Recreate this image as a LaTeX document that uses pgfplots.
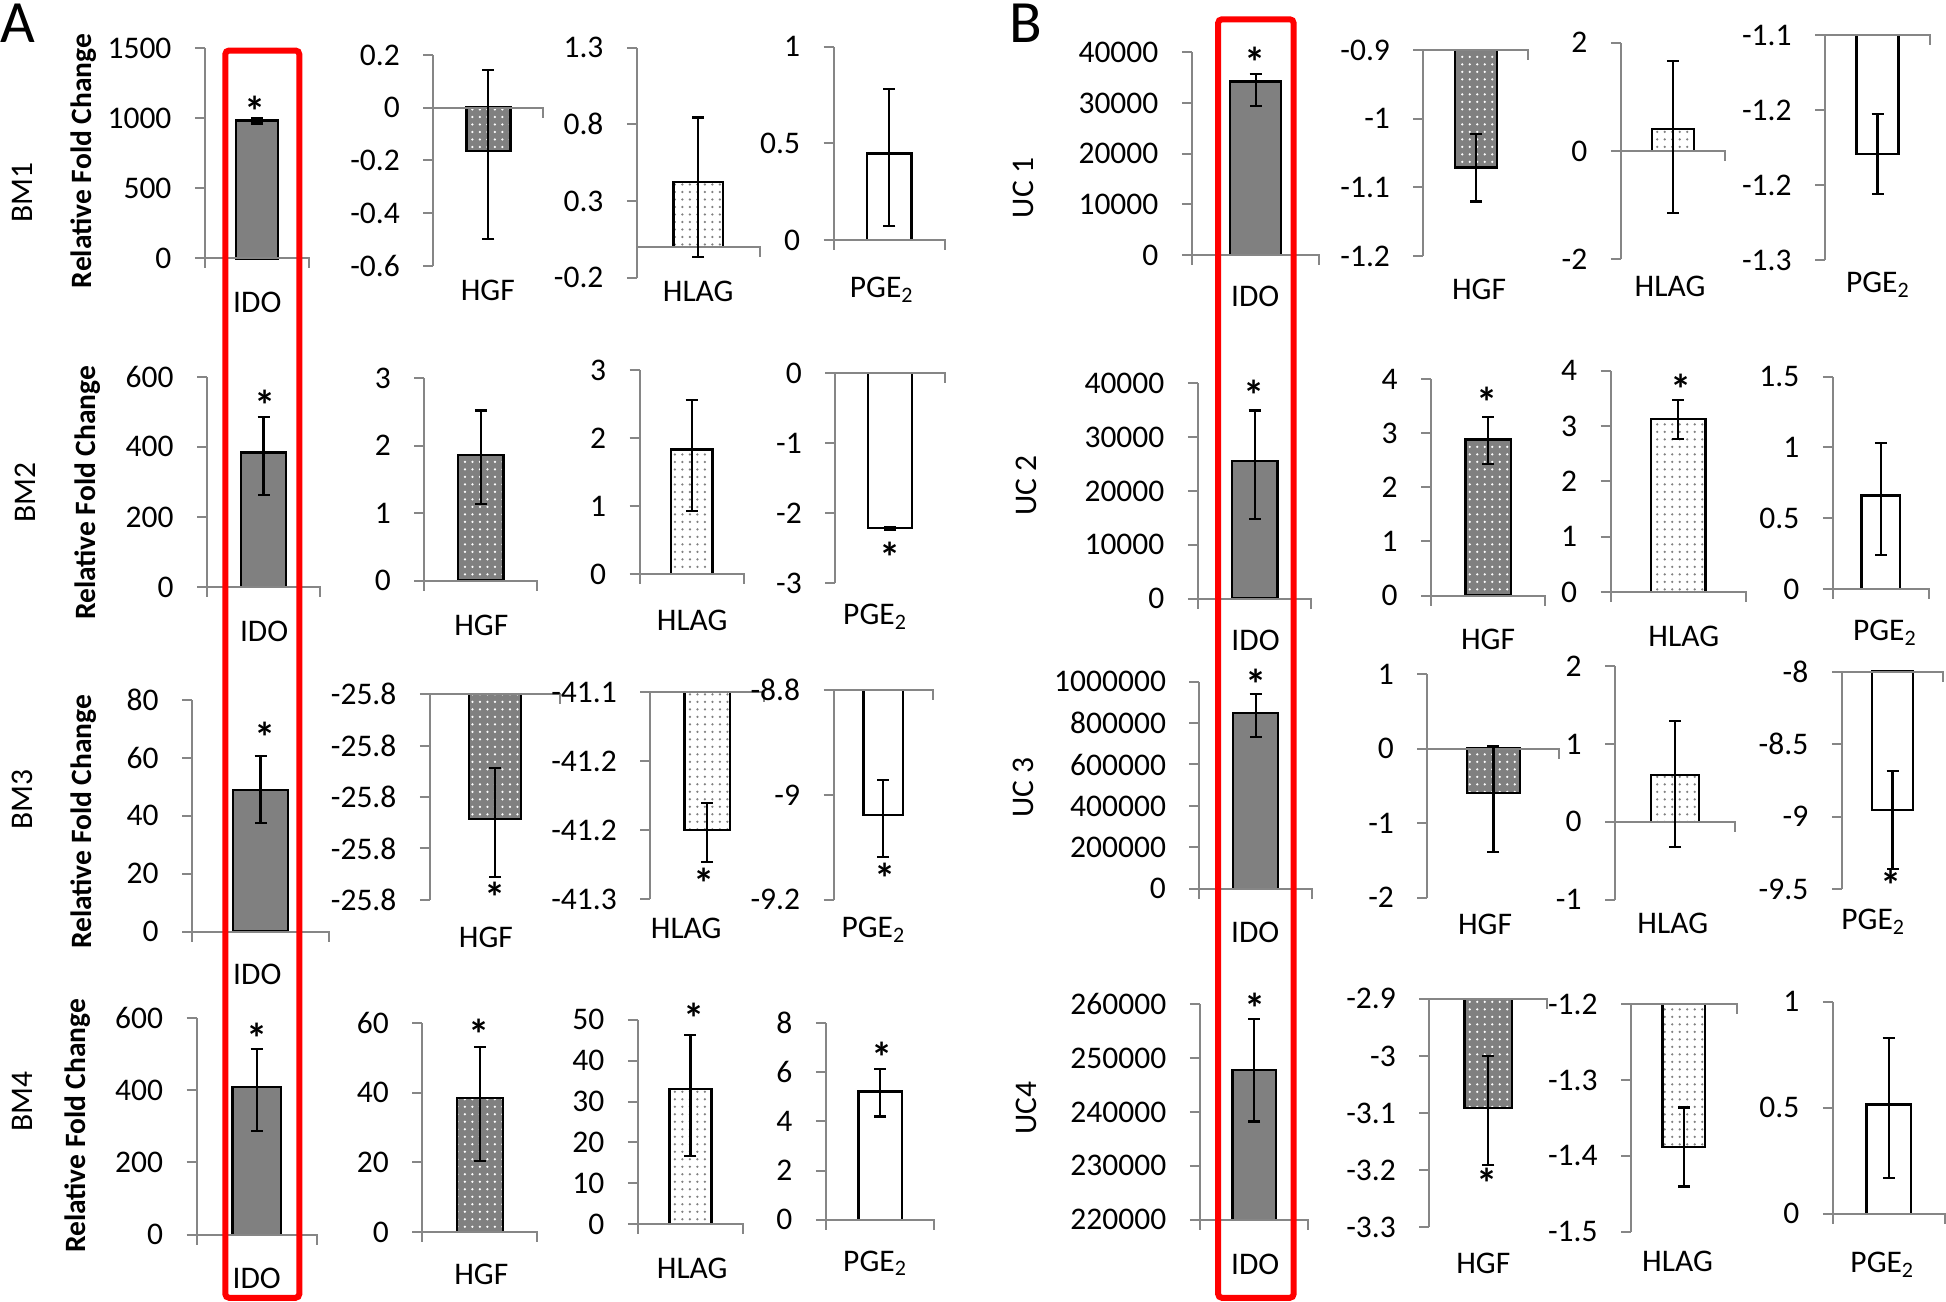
\documentclass[border=0pt]{standalone}
\usepackage{fontspec}
\setmainfont{Carlito}
\usepackage{pgfplots}
\pgfplotsset{compat=1.18}
\usetikzlibrary{patterns}
\definecolor{axgray}{RGB}{134,134,134}
\definecolor{idogray}{RGB}{128,128,128}
\newcommand\px{*0.4pt}
\newcommand\fs{\fontsize{12.6}{15}\selectfont}
\pgfplotsset{
 pnl/.style={scale only axis, anchor=south west, xmin=-1, xmax=1, clip=false,
   axis x line=none, axis y line*=left,
   axis line style={axgray, line width=0.8pt},
   tick align=outside, major tick length=4pt,
   ytick style={axgray, line width=0.8pt},
   yticklabel style={font=\fs, inner sep=0pt, xshift=-9.2pt},
   scaled ticks=false, enlargelimits=false},
 ido/.style={fill=idogray, draw=black, line width=1pt},
 hgf/.style={preaction={fill=idogray}, pattern=dots, pattern color=white, draw=black, line width=1pt},
 hlag/.style={preaction={fill=white}, pattern=dots, pattern color=gray, draw=black, line width=1pt},
 pge/.style={fill=white, draw=black, line width=1pt},
 errstyle/.style={black, mark=none, line width=0.9pt, error bars/.cd, y dir=both, y explicit,
   error bar style={draw=black, line width=0.9pt},
   error mark=-,
   error mark options={draw=black, line width=0.9pt, mark size=2.4pt, rotate=90}},
}
\newcommand\mybar[3]{\addplot[#1] coordinates {(-0.4,#2) (-0.4,#3) (0.4,#3) (0.4,#2)} -- cycle;}
\newcommand\myerr[3]{\addplot[errstyle] coordinates {(0,#1) += (0,#2) -= (0,#3)};}
\newcommand\basel[1]{\draw[axgray,line width=0.8pt] (axis cs:-1,#1) -- (axis cs:1,#1) -- ++(0pt,-4pt); \draw[axgray,line width=0.8pt] (axis cs:-1,#1) -- ++(0pt,-4pt);}
\newcommand\lab[3]{\node[font=\fs, inner sep=0pt] at (#1,#2) {#3};}
\newcommand\sig[2]{\node[font=\fontsize{17}{20}\selectfont\bfseries, inner sep=0pt] at (#1,#2) {\raisebox{-0.27em}[0.36em][0pt]{*}};}
\newcommand\rlab[3]{\node[font=\fs, rotate=90, inner sep=0pt] at (#1,#2) {#3};}
\newcommand\rfc[2]{\node[font=\fontsize{11.8}{14}\selectfont\bfseries, rotate=90, inner sep=0pt] at (#1,#2) {Relative Fold Change};}
\newcommand\PGE{PGE\textsubscript{2}}
\begin{document}
\begin{tikzpicture}
\begin{scope}[x=0.4pt,y=-0.4pt]
\useasboundingbox (0,0) rectangle (1946,1302);
\end{scope}
% ---------------- Row 1 ----------------
\begin{axis}[pnl, at={(204.6\px,-258.3\px)}, width=41.72pt, height=84pt, ymin=0, ymax=1500, ytick={0,500,1000,1500}, yticklabels={0,500,1000,1500}]
\mybar{ido}{0}{983} \basel{0} \myerr{983}{20}{20}
\end{axis}
\begin{axis}[pnl, at={(433\px,-265.7\px)}, width=44pt, height=84.28pt, ymin=-0.6, ymax=0.2, ytick={-0.6,-0.4,-0.2,0,0.2}, yticklabels={-0.6,-0.4,-0.2,0,0.2}]
\mybar{hgf}{0}{-0.164} \basel{0} \myerr{-0.164}{0.307}{0.335}
\end{axis}
\begin{axis}[pnl, at={(636.7\px,-277.7\px)}, width=49.04pt, height=92pt, ymin=-0.2, ymax=1.3, ytick={-0.2,0.3,0.8,1.3}, yticklabels={-0.2,0.3,0.8,1.3}]
\mybar{hlag}{0}{0.424} \basel{0} \myerr{0.424}{0.42}{0.49}
\end{axis}
\begin{axis}[pnl, at={(833.3\px,-240\px)}, width=44.68pt, height=77.32pt, ymin=0, ymax=1, ytick={0,0.5,1}, yticklabels={0,0.5,1}]
\mybar{pge}{0}{0.448} \basel{0} \myerr{0.448}{0.333}{0.374}
\end{axis}
\begin{axis}[pnl, at={(1191.7\px,-255\px)}, width=51.04pt, height=81.08pt, ymin=0, ymax=40000, ytick={0,10000,20000,30000,40000}, yticklabels={0,10000,20000,30000,40000}]
\mybar{ido}{0}{34200} \basel{0} \myerr{34200}{1520}{4800}
\end{axis}
\begin{axis}[pnl, at={(1423.3\px,-256\px)}, width=42pt, height=82.4pt, ymin=-1.2, ymax=-0.9, ytick={-1.2,-1.1,-1,-0.9}, yticklabels={-1.2,-1.1,-1,-0.9}]
\mybar{hgf}{-0.9}{-1.0713} \basel{-0.9} \myerr{-1.0713}{0.049}{0.0495}
\end{axis}
\begin{axis}[pnl, at={(1620.7\px,-259.3\px)}, width=41.72pt, height=86.64pt, ymin=-2, ymax=2, ytick={-2,0,2}, yticklabels={-2,0,2}]
\mybar{hlag}{0}{0.41} \basel{0} \myerr{0.41}{1.25}{1.56}
\end{axis}
\begin{axis}[pnl, at={(1825\px,-260\px)}, width=42pt, height=90pt, ymin=-1.3, ymax=-1.1, ytick={-1.3,-1.23333,-1.16667,-1.1}, yticklabels={-1.3,-1.2,-1.2,-1.1}]
\mybar{pge}{-1.1}{-1.2058} \basel{-1.1} \myerr{-1.2058}{0.0353}{0.0355}
\end{axis}
% ---------------- Row 2 ----------------
\begin{axis}[pnl, at={(206.7\px,-587.3\px)}, width=45.2pt, height=84.24pt, ymin=0, ymax=600, ytick={0,200,400,600}, yticklabels={0,200,400,600}]
\mybar{ido}{0}{383.5} \basel{0} \myerr{383.5}{101}{120.5}
\end{axis}
\begin{axis}[pnl, at={(424\px,-580.7\px)}, width=45.2pt, height=80.96pt, ymin=0, ymax=3, ytick={0,1,2,3}, yticklabels={0,1,2,3}]
\mybar{hgf}{0}{1.862} \basel{0} \myerr{1.862}{0.66}{0.73}
\end{axis}
\begin{axis}[pnl, at={(639.4\px,-574.3\px)}, width=41.68pt, height=81.72pt, ymin=0, ymax=3, ytick={0,1,2,3}, yticklabels={0,1,2,3}]
\mybar{hlag}{0}{1.835} \basel{0} \myerr{1.835}{0.72}{0.91}
\end{axis}
\begin{axis}[pnl, at={(835\px,-583.3\px)}, width=44pt, height=84pt, ymin=-3, ymax=0, ytick={-3,-2,-1,0}, yticklabels={-3,-2,-1,0}]
\mybar{pge}{0}{-2.214} \basel{0} \myerr{-2.214}{0.02}{0.02}
\end{axis}
\begin{axis}[pnl, at={(1197.7\px,-598.7\px)}, width=45.44pt, height=86.16pt, ymin=0, ymax=40000, ytick={0,10000,20000,30000,40000}, yticklabels={0,10000,20000,30000,40000}]
\mybar{ido}{0}{25580} \basel{0} \myerr{25580}{9350}{10830}
\end{axis}
\begin{axis}[pnl, at={(1431\px,-595.7\px)}, width=45.72pt, height=86.68pt, ymin=0, ymax=4, ytick={0,1,2,3,4}, yticklabels={0,1,2,3,4}]
\mybar{hgf}{0}{2.886} \basel{0} \myerr{2.886}{0.414}{0.456}
\end{axis}
\begin{axis}[pnl, at={(1610.5\px,-592.3\px)}, width=54.12pt, height=88.64pt, ymin=0, ymax=4, ytick={0,1,2,3,4}, yticklabels={0,1,2,3,4}]
\mybar{hlag}{0}{3.128} \basel{0} \myerr{3.128}{0.34}{0.36}
\end{axis}
\begin{axis}[pnl, at={(1832.7\px,-589.3\px)}, width=38.52pt, height=85.04pt, ymin=0, ymax=1.5, ytick={0,0.5,1,1.5}, yticklabels={0,0.5,1,1.5}]
\mybar{pge}{0}{0.66} \basel{0} \myerr{0.66}{0.37}{0.42}
\end{axis}
% ---------------- Row 3 ----------------
\begin{axis}[pnl, at={(191.8\px,-931.7\px)}, width=54.72pt, height=92.68pt, ymin=0, ymax=80, ytick={0,20,40,60,80}, yticklabels={0,20,40,60,80}]
\mybar{ido}{0}{48.9} \basel{0} \myerr{48.9}{11.8}{11.3}
\end{axis}
\begin{axis}[pnl, at={(429.6\px,-900\px)}, width=52.16pt, height=82.28pt, ymin=-25.84, ymax=-25.76, ytick={-25.84,-25.82,-25.8,-25.78,-25.76}, yticklabels={-25.8,-25.8,-25.8,-25.8,-25.8}]
\mybar{hgf}{-25.76}{-25.8085} \basel{-25.76} \myerr{-25.8085}{0.0197}{0.0227}
\end{axis}
\begin{axis}[pnl, at={(650\px,-899.3\px)}, width=45.6pt, height=82.8pt, ymin=-41.3, ymax=-41.1, ytick={-41.3,-41.23333,-41.16667,-41.1}, yticklabels={-41.3,-41.2,-41.2,-41.1}]
\mybar{hlag}{-41.1}{-41.2333} \basel{-41.1} \myerr{-41.2333}{0.0263}{0.0307}
\end{axis}
\begin{axis}[pnl, at={(833.3\px,-900\px)}, width=39.76pt, height=84pt, ymin=-9.2, ymax=-8.8, ytick={-9.2,-9,-8.8}, yticklabels={-9.2,-9,-8.8}]
\mybar{pge}{-8.8}{-9.038} \basel{-8.8} \myerr{-9.038}{0.067}{0.081}
\end{axis}
\begin{axis}[pnl, at={(1199.3\px,-889\px)}, width=44.96pt, height=82.92pt, ymin=0, ymax=1000000, ytick={0,200000,400000,600000,800000,1000000}, yticklabels={0,200000,400000,600000,800000,1000000}]
\mybar{ido}{0}{847500} \basel{0} \myerr{847500}{93000}{114000}
\end{axis}
\begin{axis}[pnl, at={(1427.3\px,-897.7\px)}, width=52.8pt, height=89.36pt, ymin=-2, ymax=1, ytick={-2,-1,0,1}, yticklabels={-2,-1,0,1}]
\mybar{hgf}{0}{-0.595} \basel{0} \myerr{-0.595}{0.635}{0.795}
\end{axis}
\begin{axis}[pnl, at={(1615\px,-900\px)}, width=48pt, height=93.6pt, ymin=-1, ymax=2, ytick={-1,0,1,2}, yticklabels={-1,0,1,2}]
\mybar{hlag}{0}{0.598} \basel{0} \myerr{0.598}{0.70}{0.92}
\end{axis}
\begin{axis}[pnl, at={(1841.7\px,-889.3\px)}, width=40.64pt, height=87.04pt, ymin=-9.5, ymax=-8, ytick={-9.5,-9,-8.5,-8}, yticklabels={-9.5,-9,-8.5,-8}]
\mybar{pge}{-8}{-8.954} \basel{-8} \myerr{-8.954}{0.271}{0.407}
\end{axis}
% ---------------- Row 4 ----------------
\begin{axis}[pnl, at={(196.2\px,-1235\px)}, width=48.16pt, height=86.92pt, ymin=0, ymax=600, ytick={0,200,400,600}, yticklabels={0,200,400,600}]
\mybar{ido}{0}{407.8} \basel{0} \myerr{407.8}{104.9}{120.6}
\end{axis}
\begin{axis}[pnl, at={(422.1\px,-1232.3\px)}, width=45.96pt, height=83.6pt, ymin=0, ymax=60, ytick={0,20,40,60}, yticklabels={0,20,40,60}]
\mybar{hgf}{0}{38.47} \basel{0} \myerr{38.47}{14.6}{18.0}
\end{axis}
\begin{axis}[pnl, at={(637.5\px,-1224.3\px)}, width=42.2pt, height=81.72pt, ymin=0, ymax=50, ytick={0,10,20,30,40,50}, yticklabels={0,10,20,30,40,50}]
\mybar{hlag}{0}{33.1} \basel{0} \myerr{33.1}{13.1}{16.5}
\end{axis}
\begin{axis}[pnl, at={(825.6\px,-1220\px)}, width=43.44pt, height=78.68pt, ymin=0, ymax=8, ytick={0,2,4,6,8}, yticklabels={0,2,4,6,8}]
\mybar{pge}{0}{5.22} \basel{0} \myerr{5.22}{0.91}{1.02}
\end{axis}
\begin{axis}[pnl, at={(1199.6\px,-1220\px)}, width=43.44pt, height=86.28pt, ymin=220000, ymax=260000, ytick={220000,230000,240000,250000,260000}, yticklabels={220000,230000,240000,250000,260000}]
\mybar{ido}{220000}{247820} \basel{220000} \myerr{247820}{9400}{9590}
\end{axis}
\begin{axis}[pnl, at={(1429.2\px,-1227.3\px)}, width=47.2pt, height=91.32pt, ymin=-3.3, ymax=-2.9, ytick={-3.3,-3.2,-3.1,-3,-2.9}, yticklabels={-3.3,-3.2,-3.1,-3,-2.9}]
\mybar{hgf}{-2.9}{-3.0914} \basel{-2.9} \myerr{-3.0914}{0.0916}{0.0996}
\end{axis}
\begin{axis}[pnl, at={(1631\px,-1231.7\px)}, width=42.2pt, height=90.96pt, ymin=-1.5, ymax=-1.2, ytick={-1.5,-1.4,-1.3,-1.2}, yticklabels={-1.5,-1.4,-1.3,-1.2}]
\mybar{hlag}{-1.2}{-1.3887} \basel{-1.2} \myerr{-1.3887}{0.0523}{0.0519}
\end{axis}
\begin{axis}[pnl, at={(1832.7\px,-1214\px)}, width=44.72pt, height=84.92pt, ymin=0, ymax=1, ytick={0,0.5,1}, yticklabels={0,0.5,1}]
\mybar{pge}{0}{0.514} \basel{0} \myerr{0.514}{0.316}{0.346}
\end{axis}
% ---------------- annotations ----------------
\begin{scope}[x=0.4pt,y=-0.4pt]
\node[font=\fontsize{24}{28}\selectfont, inner sep=0pt] at (17,23.5) {A};
\node[font=\fontsize{24}{28}\selectfont, inner sep=0pt] at (1026,23.3) {B};
\rlab{22}{193}{BM1} \rlab{24.8}{493}{BM2} \rlab{22}{800}{BM3} \rlab{21.7}{1101.7}{BM4}
\rlab{1023.3}{188}{UC 1} \rlab{1025.8}{486}{UC 2} \rlab{1023.3}{787.5}{UC 3} \rlab{1025.8}{1108}{UC4}
\rfc{83}{161} \rfc{87}{493} \rfc{83}{822} \rfc{77.6}{1126}
% category labels
\lab{257}{302}{IDO} \lab{487.5}{290}{HGF} \lab{698}{291.7}{HLAG} \lab{881.7}{290}{\PGE}
\lab{1255}{296.7}{IDO} \lab{1479}{289}{HGF} \lab{1670}{286.7}{HLAG} \lab{1878}{285}{\PGE}
\lab{263.8}{631.7}{IDO} \lab{481}{625}{HGF} \lab{692}{620}{HLAG} \lab{875}{616.7}{\PGE}
\lab{1255.4}{640}{IDO} \lab{1488}{639}{HGF} \lab{1683.7}{636}{HLAG} \lab{1885}{633}{\PGE}
\lab{257}{975}{IDO} \lab{485.7}{938}{HGF} \lab{686}{928.3}{HLAG} \lab{873.3}{930}{\PGE}
\lab{1255}{932.7}{IDO} \lab{1485}{925}{HGF} \lab{1672.7}{923.3}{HLAG} \lab{1873.3}{921.7}{\PGE}
\lab{256.4}{1278.3}{IDO} \lab{481}{1275}{HGF} \lab{692}{1268.3}{HLAG} \lab{875}{1263.3}{\PGE}
\lab{1255}{1265}{IDO} \lab{1483.2}{1263.3}{HGF} \lab{1677.5}{1261.7}{HLAG} \lab{1882.4}{1265}{\PGE}
% significance
\sig{255}{107} \sig{1255}{58.3}
\sig{265}{401.7} \sig{890}{553.3} \sig{1254.2}{391.7} \sig{1487}{398.3} \sig{1680.6}{385}
\sig{264.3}{733.3} \sig{494.6}{894} \sig{704}{879.3} \sig{885}{874.3} \sig{1256}{680.7} \sig{1890.7}{881.7}
\sig{256.4}{1035} \sig{479.2}{1031} \sig{693.4}{1015} \sig{881.4}{1053.3} \sig{1255.4}{1004.3} \sig{1487}{1180}
% red boxes
\draw[red, line width=2.4pt, rounded corners=1.5pt] (225,50.5) rectangle (299,1298);
\draw[red, line width=2.4pt, rounded corners=1.5pt] (1218,19.3) rectangle (1293.5,1298);
\end{scope}
\end{tikzpicture}
\end{document}
